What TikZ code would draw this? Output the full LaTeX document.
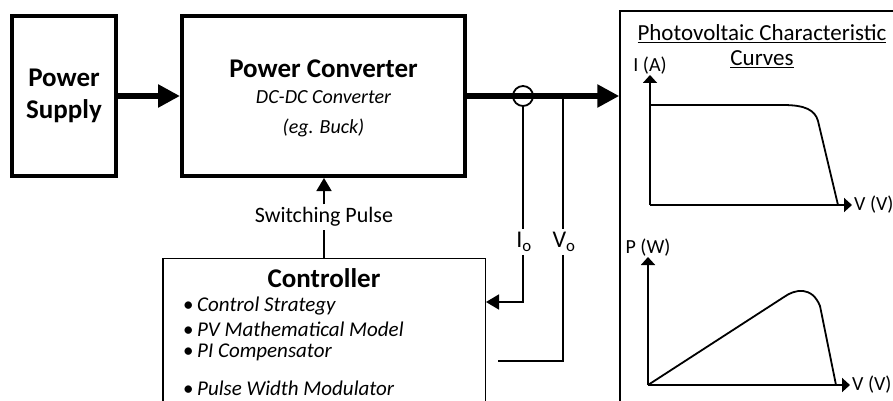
\documentclass[tikz,border=0pt]{standalone}
\usepackage{fontspec}
\setmainfont{Carlito}
\usepackage{tikz}
\usetikzlibrary{arrows.meta,positioning,calc}

\begin{document}
\begin{tikzpicture}[
  x=1pt, y=-1pt,
  >={Triangle[length=13pt,width=15pt]},
  bigbox/.style={draw, rectangle, line width=4pt, align=center, inner sep=0pt,
                 font=\fontsize{27}{32}\selectfont\bfseries},
  thinbox/.style={draw, rectangle, line width=1.5pt, inner sep=0pt},
  bus/.style={line width=5.5pt, -{Triangle[length=22pt,width=22pt]}},
  wire/.style={line width=1.8pt},
  axis/.style={line width=1.8pt, -{Triangle[length=8pt,width=14pt]}},
  txt/.style={inner sep=3pt, font=\fontsize{22}{26}\selectfont},
  small/.style={inner sep=1pt, font=\fontsize{20}{24}\selectfont},
  listitem/.style={anchor=west, inner sep=0pt, font=\fontsize{21}{25}\selectfont}
]
\useasboundingbox (0,0) rectangle (893,401);
\clip (0,0) rectangle (893,401);

% blocks
\node (supply) [bigbox, minimum width=104pt, minimum height=160pt] at (64,96) {Power\\Supply};
\node (conv)   [bigbox, minimum width=283pt, minimum height=160pt] at (323.5,96) {};
\node (convtitle) [txt, font=\fontsize{27}{32}\selectfont\bfseries] at (323.5,69) {Power Converter};
\node (convtype)  [txt, font=\fontsize{20}{24}\selectfont\itshape] at (323.5,97) {DC-DC Converter};
\node (convex)    [txt, font=\fontsize{20}{24}\selectfont\itshape] at (323.5,128) {(eg. Buck)};

\node (ctrl) [thinbox, minimum width=322.5pt, minimum height=171pt] at (324,344) {};
\node (ctrltitle) [txt, font=\fontsize{27}{32}\selectfont\bfseries] at (324,278) {Controller};
\node (strategy) [listitem] at (183,306) {\textbullet\,\textit{Control Strategy}};
\node (model)    [listitem] at (183,329) {\textbullet\,\textit{PV Mathematical Model}};
\node (picomp)   [listitem] at (183,352) {\textbullet\,\textit{PI Compensator}};
\node (pwm)      [listitem] at (183,388) {\textbullet\,\textit{Pulse Width Modulator}};

\node (pv) [thinbox, minimum width=300pt, minimum height=419pt] at (770,220.5) {};
\node (pvtitle) [inner sep=0pt, align=center, font=\fontsize{23}{25}\selectfont] at (762,46)
      {\underline{Photovoltaic Characteristic}\\\underline{Curves}};

% power path
\draw[bus] (supply) -- (conv);
\draw[bus] (conv.east) -- (conv.east -| pv.west);

% sensing
\node (sense) [circle, draw, wire, minimum size=20pt, inner sep=0pt] at (523,96) {};
\coordinate (vtap) at (563,96);
\node (iolbl) [txt, font=\fontsize{24}{28}\selectfont] at (524,242) {I\textsubscript{o}};
\node (volbl) [txt, font=\fontsize{24}{28}\selectfont] at (564,242) {V\textsubscript{o}};
\coordinate (ioturn) at (523,302);
\coordinate (vend) at (498,361);
\draw[wire] (sense) -- (sense |- iolbl.north);
\draw[wire, ->] (sense |- iolbl.south) -- (ioturn) -- (ioturn -| ctrl.east);
\draw[wire] (vtap) -- (vtap |- volbl.north);
\draw[wire] (vtap |- volbl.south) |- (vend);

% switching pulse
\node (swlbl) [txt] at (324,217) {Switching Pulse};
\draw[wire] (swlbl |- ctrl.north) -- (swlbl);
\draw[wire, ->] (swlbl) -- (swlbl |- conv.south);

% I-V curve
\coordinate (ivo) at (650,205);
\coordinate (ivy) at (650,75);
\coordinate (ivx) at (852,205);
\draw[axis] (ivo) -- (ivy);
\draw[axis] (ivo) -- (ivx);
\node (ivylbl) [small, above=0pt of ivy] {I (A)};
\node (ivxlbl) [small, right=1pt of ivx] {V (V)};
\draw[wire] (ivo |- 0,105) -- (783,105) .. controls (805,105) and (815,110) .. (818,121) -- (838,205);

% P-V curve
\coordinate (pvo) at (648,385);
\coordinate (pvy) at (648,257);
\coordinate (pvx) at (850,385);
\draw[axis] (pvo) -- (pvy);
\draw[axis] (pvo) -- (pvx);
\node (pvylbl) [small, above=0pt of pvy] {P (W)};
\node (pvxlbl) [small, right=1pt of pvx] {V (V)};
\draw[wire] (pvo) -- (784,297) .. controls (795,289) and (812,286) .. (820,306) -- (836,385);
\end{tikzpicture}
\end{document}
